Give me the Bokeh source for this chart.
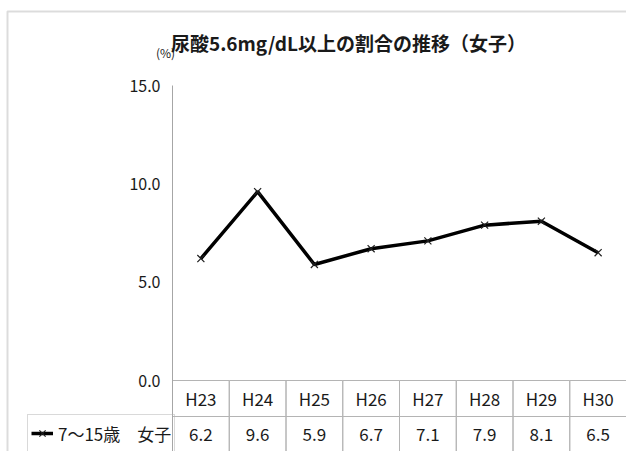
from bokeh.plotting import figure
from bokeh.models import (Range1d, FixedTicker, Label, Legend, LegendItem,
                          NumeralTickFormatter, BoxAnnotation)
from bokeh.core.properties import value
from bokeh.embed import file_html
from bokeh.resources import INLINE

# ---- data ----
years = ["H23", "H24", "H25", "H26", "H27", "H28", "H29", "H30"]
rates = [6.2, 9.6, 5.9, 6.7, 7.1, 7.9, 8.1, 6.5]
series_name = "7～15歳　女子"
title_text = "尿酸5.6mg/dL以上の割合の推移（女子）"
unit_text = "(%)"
y_ticks = [0, 5, 10, 15]

# ---- layout constants (pixels on the canvas) ----
W, H = 626, 451
PLOT_LEFT, PLOT_TOP, PLOT_BOTTOM = 172, 85, 380
ROW_PX = 36
Y_MAX = 15
n = len(years)

px_x = (W - PLOT_LEFT) / n                    # pixels per category
px_y = (PLOT_BOTTOM - PLOT_TOP) / Y_MAX       # pixels per percent

def dx(px):   # canvas x pixel -> data x
    return (px - PLOT_LEFT) / px_x

def dy(py):   # canvas y pixel -> data y
    return (PLOT_BOTTOM - py) / px_y

def ty(py):   # canvas y pixel -> table row units
    return 2 + (PLOT_BOTTOM - py) / ROW_PX

GRID = "#b4b4b4"
AXIS = "#a6a6a6"
TXT = "#1a1a1a"
FONT = "Noto Sans CJK JP"

xs = [i + 0.5 for i in range(n)]
value_labels = [f"{v:.1f}" for v in rates]

p = figure(width=W, height=H, output_backend="svg", toolbar_location=None,
           x_range=Range1d(dx(0), dx(W)), y_range=Range1d(dy(H), dy(0)),
           min_border=0, min_border_left=0, min_border_right=0,
           min_border_top=0, min_border_bottom=0)
p.extra_y_ranges = {"table": Range1d(ty(H), ty(0))}
p.outline_line_color = None
p.grid.visible = False
p.xaxis.visible = False
p.background_fill_color = "white"
p.border_fill_color = "white"

ax = p.yaxis[0]
ax.fixed_location = 0
ax.bounds = (dy(H), Y_MAX)
ax.ticker = FixedTicker(ticks=y_ticks)
ax.formatter = NumeralTickFormatter(format="0.0")
ax.axis_line_color = AXIS
ax.axis_line_width = 1
ax.major_tick_line_color = None
ax.minor_tick_line_color = None
ax.major_tick_out = 0
ax.major_tick_in = 0
ax.major_label_standoff = 12
ax.major_label_text_font = FONT
ax.major_label_text_font_size = "16px"
ax.major_label_text_color = TXT

# ---- outer chart border ----
p.add_layout(BoxAnnotation(left=dx(7), right=dx(W + 40), top=dy(11), bottom=dy(H + 40),
                           fill_alpha=0, line_color="#8c8c8c", line_width=2))

# ---- data table ----
p.quad(left=list(range(n)), right=[i + 1 for i in range(n)],
       bottom=[1] * n, top=[2] * n, y_range_name="table",
       fill_color=None, line_color=GRID, line_width=1)
p.quad(left=list(range(n)), right=[i + 1 for i in range(n)],
       bottom=[0] * n, top=[1] * n, y_range_name="table",
       fill_color=None, line_color=GRID, line_width=1)
p.text(x=xs, y=[1.5] * n, text=years, y_range_name="table",
       text_align="center", text_baseline="middle",
       text_font=value(FONT), text_font_size=value("17px"), text_color=TXT)
p.text(x=xs, y=[0.5] * n, text=value_labels, y_range_name="table",
       text_align="center", text_baseline="middle",
       text_font=value(FONT), text_font_size=value("17px"), text_color=TXT)

# ---- series ----
line_r = p.line(xs, rates, line_width=3.5, line_color="black")
mark_r = p.scatter(xs, rates, marker="x", size=10, line_color="#202020", line_width=1.2)

legend = Legend(items=[LegendItem(label=series_name, renderers=[line_r, mark_r])],
                location=(27, -1), padding=3, spacing=0, margin=0,
                glyph_width=22, glyph_height=30, label_standoff=5,
                label_width=112, label_height=30,
                border_line_color=GRID, border_line_width=1,
                background_fill_alpha=0,
                label_text_font=FONT, label_text_font_size="17px",
                label_text_color=TXT)
p.add_layout(legend)

# ---- titles ----
p.add_layout(Label(x=dx(348), y=dy(42), text=title_text,
                   text_align="center", text_baseline="middle",
                   text_font=FONT, text_font_style="bold", text_font_size="19px",
                   text_color=TXT))
p.add_layout(Label(x=dx(165), y=dy(52), text=unit_text,
                   text_align="center", text_baseline="middle",
                   text_font=FONT, text_font_size="12px", text_color=TXT))

open("out.html", "w").write(file_html(p, INLINE))
